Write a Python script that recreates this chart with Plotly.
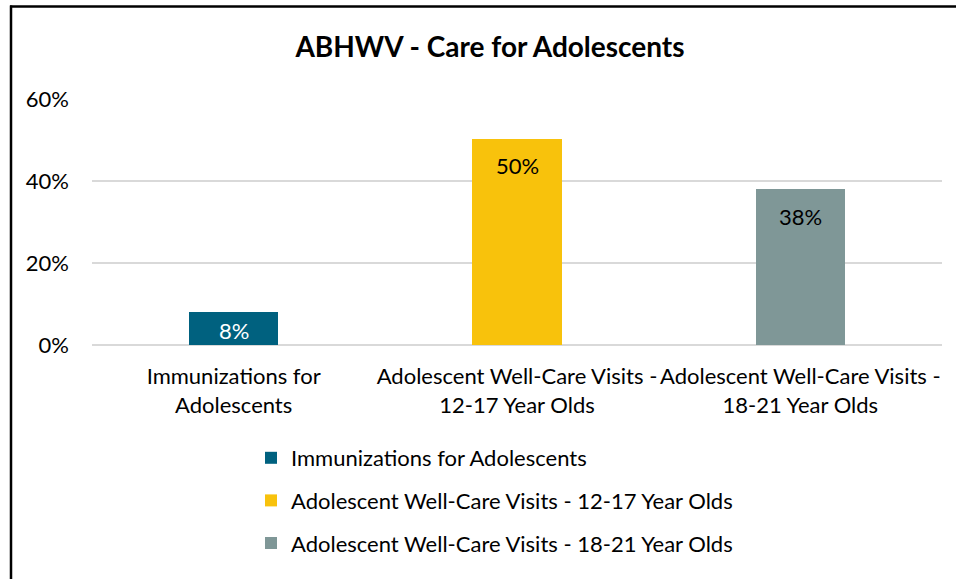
import plotly.graph_objects as go

categories = ["Immunizations for Adolescents",
              "Adolescent Well-Care Visits - 12-17 Year Olds",
              "Adolescent Well-Care Visits - 18-21 Year Olds"]
tick_labels = ["Immunizations for<br>Adolescents",
               "Adolescent Well-Care Visits -<br>12-17 Year Olds",
               "Adolescent Well-Care Visits -<br>18-21 Year Olds"]
values = [8.0, 50.4, 38.0]
value_labels = ["8%", "50%", "38%"]
colors = ["#00617F", "#F8C20C", "#7F9797"]
label_colors = ["white", "black", "black"]
y_ticks = [0, 20, 40, 60]
y_tick_labels = ["0%", "20%", "40%", "60%"]

FONT = "Lato"
FS = 22

# plot area in page pixels
L, R, T, B = 92, 942, 99, 345
W, H = 956, 579
PX_PER_UNIT = (B - T) / 60.0


def px_x(p):
    return (p - L) / (R - L)


def px_y(p):
    return (B - p) / (B - T)


fig = go.Figure()
for i, (cat, val) in enumerate(zip(categories, values)):
    fig.add_trace(go.Bar(
        x=[cat], y=[val], name=cat,
        marker=dict(color=colors[i], line=dict(width=0)),
        width=0.315,
        legendgroup=f"g{i}",
    ))
    fig.add_annotation(
        x=cat, y=val, xref="x", yref="y",
        text=value_labels[i], showarrow=False,
        yanchor="middle", yshift=-min(27, val * PX_PER_UNIT / 2 + 1.5),
        font=dict(family=FONT, size=FS, color=label_colors[i]),
    )

fig.update_layout(
    width=W, height=H,
    margin=dict(l=L, r=W - R, t=T, b=H - B, pad=0, autoexpand=False),
    paper_bgcolor="white", plot_bgcolor="white",
    font=dict(family=FONT, size=FS, color="black"),
    title=dict(text="<b>ABHWV - Care for Adolescents</b>", x=490 / W, xanchor="center",
               y=1 - 47 / H, yanchor="middle",
               font=dict(family=FONT, size=28, color="black")),
    xaxis=dict(tickmode="array", tickvals=categories, ticktext=tick_labels,
               showline=False, ticks="", showgrid=False, ticklabelstandoff=16,
               automargin=False,
               tickfont=dict(family=FONT, size=FS, color="black")),
    yaxis=dict(range=[0, 60.1], tickmode="array", tickvals=y_ticks, ticktext=y_tick_labels,
               showgrid=True, gridcolor="#D9D9D9", gridwidth=1.5,
               zeroline=True, zerolinecolor="#D9D9D9", zerolinewidth=1.5,
               ticks="", ticklabelstandoff=22, automargin=False,
               tickfont=dict(family=FONT, size=FS, color="black")),
    showlegend=True,
    legend=dict(orientation="v", x=px_x(251), xanchor="left",
                y=px_y(437), yanchor="top",
                font=dict(family=FONT, size=FS, color="black"),
                tracegroupgap=11, itemwidth=30, traceorder="grouped"),
    bargap=0.0,
    shapes=[
        dict(type="line", xref="paper", yref="paper",
             x0=px_x(10), x1=px_x(960), y0=px_y(6.5), y1=px_y(6.5),
             line=dict(color="black", width=2.5)),
        dict(type="line", xref="paper", yref="paper",
             x0=px_x(11), x1=px_x(11), y0=px_y(5.5), y1=px_y(585),
             line=dict(color="black", width=2.5)),
    ],
)

fig.write_html("out.html", config={"displayModeBar": False},
               post_script="document.body.style.margin='0';")
